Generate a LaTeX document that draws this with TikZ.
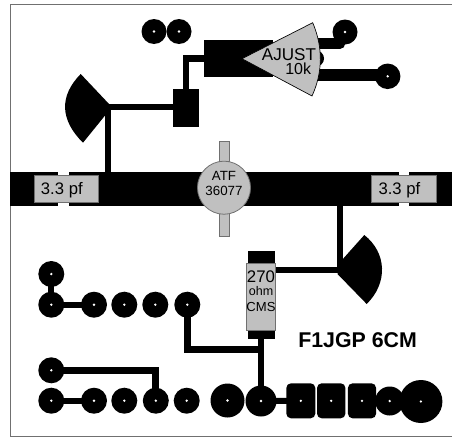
\documentclass[tikz,border=0pt]{standalone}
\usepackage{fontspec}
\setmainfont{Liberation Sans}
\definecolor{partgray}{HTML}{C0C0C0}
\definecolor{edgegray}{HTML}{707070}
\tikzset{
  pad/.style={circle,fill=black,inner sep=0pt,minimum size=#1*0.75pt},
  sqpad/.style={fill=black,rounded corners=3.5pt,inner sep=0pt,minimum width=#1*0.75pt,minimum height=26.25pt},
  block/.style={fill=black,inner sep=0pt},
  trace/.style={draw=black,line width=#1*0.75pt},
  part/.style={fill=partgray,draw=edgegray,line width=0.6pt,inner sep=0pt},
  lbl/.style={inner sep=0pt,anchor=base,text=black},
  lblw/.style={inner sep=0pt,anchor=base west,text=black}
}
\begin{document}
\begin{tikzpicture}[x=0.75pt,y=-0.75pt]
\useasboundingbox (0,0) rectangle (452,439);
% frame
\draw[edgegray,line width=0.8pt] (452,4.7) -- (10.2,4.7) -- (10.2,436.7) -- (452,436.7);
% main line with gaps
\fill[black] (10,172) rectangle (58,205.7);
\fill[black] (69,172) rectangle (399.3,205.7);
\fill[black] (409,172) rectangle (452,205.7);
% named anchors
\coordinate (stubL) at (107.6,107.2);
\coordinate (stubLb) at (107.6,172);
\coordinate (stubR) at (340.2,270.3);
\coordinate (stubRt) at (340.2,205);
\coordinate (potT) at (300,43.5);
\coordinate (potB) at (300,75.2);
\coordinate (potTe) at (340,43.5);
% radial stubs
\fill[black] (109.5,104.5) -- (80.7,74) .. controls (59,96) and (60,120) .. (83,142.7) -- (109.5,110) -- cycle;
\fill[black] (337.5,265) -- (364.3,235) .. controls (387,253) and (388,283) .. (366.7,304) -- (337.5,274) -- cycle;
% blocks
\node[block,minimum width=19.5pt,minimum height=28.5pt] (bias) at (186,108) {};
\node[block,minimum width=51.3pt,minimum height=27.5pt] (potpad) at (238.5,58.3) {};
\node[block,minimum width=20.25pt,minimum height=65.8pt] (respad) at (261.5,294.8) {};
% top pads
\node[pad=25] (t1) at (154,31.5) {};
\node[pad=25] (t2) at (179,31.5) {};
\node[pad=25] (t3) at (345,32) {};
\node[pad=25.5] (t4) at (387.7,76.3) {};
\node[pad=16] (wiper) at (316,58.5) {};
% traces upper
\draw[trace=5.8] (stubL) -- (stubLb);
\draw[trace=5.8] (stubL) -- (stubL -| bias.center);
\draw[trace=6.7] (bias.center) |- (potpad.center);
\draw[trace=6] (stubR) -- (stubRt);
\draw[trace=6] (stubR) -- (stubR -| respad.center);
\draw[trace=10.5,line cap=round] (potT) -- (potTe);
\draw[trace=11.5] (potB) -- (potB -| t4.center);
% bottom pads, upper row
\node[pad=26] (a0) at (51.3,274) {};
\node[pad=26] (a1) at (51.3,304.7) {};
\node[pad=26] (a2) at (94,304.7) {};
\node[pad=26] (a3) at (124.3,304.7) {};
\node[pad=26] (a4) at (155.3,304.7) {};
\node[pad=26] (a5) at (187.3,304.7) {};
% lower row
\node[pad=26] (b0) at (51.3,370.3) {};
\node[pad=26] (b1) at (51.3,400.7) {};
\node[pad=26] (b2) at (94,400.7) {};
\node[pad=26] (b3) at (124.3,400.7) {};
\node[pad=26] (b4) at (155.8,400.7) {};
\node[pad=26] (b5) at (186.7,400.7) {};
\node[pad=34] (c1) at (227.5,400.5) {};
\node[pad=31] (c2) at (261,401) {};
\node[sqpad=29] (s1) at (300.8,400.8) {};
\node[sqpad=28.4] (s2) at (331.2,400.8) {};
\node[sqpad=28.2] (s3) at (362,400.8) {};
\node[pad=29] (c3) at (389.7,401) {};
\node[pad=43] (c4) at (420.9,401.5) {};
% traces lower
\draw[trace=6] (a0.center) -- (a1.center);
\draw[trace=6] (a1.center) -- (a2.center);
\draw[trace=6] (b1.center) -- (b2.center);
\draw[trace=6.7] (a5.center) |- (c2.center |- 0,349.4);
\draw[trace=6.4] (c2.center |- respad.center) -- (c2.center);
\draw[trace=6.7] (b0.center) -| (b4.center);
\draw[trace=6] (c2.center) -- (s1.center);
% holes
\foreach \p in {t1,t2,t3,t4,a0,a1,a2,a3,a4,a5,b0,b1,b2,b3,b4,b5,c1,c2,s1,s2,s3,c3,c4}
  \fill[white] (\p.center) circle (1.3);
% capacitors
\node[part,minimum width=48pt,minimum height=20.25pt] (capL) at (66,188.5) {};
\node[part,minimum width=48.2pt,minimum height=20.25pt] (capR) at (403.8,188.5) {};
\node[lblw] (capLt) at (40.7,194.5) {\fontsize{12.5}{12.5}\selectfont 3.3 pf};
\node[lblw] (capRt) at (378.3,194.5) {\fontsize{12.5}{12.5}\selectfont 3.3 pf};
% transistor
\node[part,minimum width=7.5pt,minimum height=71.5pt] (fetleads) at (224.3,188.9) {};
\node[part,circle,minimum size=39.8pt] (fet) at (224,187.7) {};
\node[lbl] (fet1) at (224,180) {\fontsize{10}{10}\selectfont ATF};
\node[lbl] (fet2) at (224,195) {\fontsize{10}{10}\selectfont 36077};
% potentiometer
\path[fill=partgray,draw=black,line width=0.5pt] (242,58.7) -- (312.7,22.7) .. controls (323,47) and (323,72) .. (312,96) -- cycle;
\node[lblw] (pot1) at (261.7,60.3) {\fontsize{12.8}{12.8}\selectfont AJUST};
\node[lblw] (pot2) at (285,74) {\fontsize{12}{12}\selectfont 10k};
% resistor
\node[part,minimum width=21.4pt,minimum height=50pt] (res) at (261,297) {};
\node[lbl] (res1) at (261,282.3) {\fontsize{12.6}{12.6}\selectfont 270};
\node[lbl] (res2) at (261,295) {\fontsize{9.4}{9.4}\selectfont ohm};
\node[lbl] (res3) at (261,311.7) {\fontsize{9.8}{9.8}\selectfont CMS};
% title
\node[lblw] (title) at (298,347) {\fontsize{16}{16}\selectfont\bfseries F1JGP 6CM};
\end{tikzpicture}
\end{document}
